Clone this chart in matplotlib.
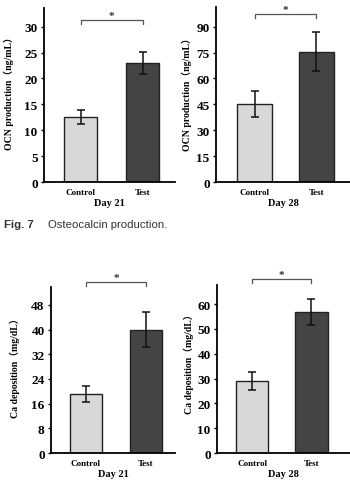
import numpy as np
import matplotlib
matplotlib.use("Agg")
import matplotlib.pyplot as plt

plt.rcParams['font.family'] = ['Liberation Serif', 'Noto Sans CJK SC']
plt.rcParams['font.weight'] = 'bold'

groups = ["Control", "Test"]

ocn_day21 = [12.6, 23.0]
ocn_day21_err = [1.3, 2.1]
ocn_day28 = [45.0, 75.5]
ocn_day28_err = [7.5, 11.3]
ca_day21 = [19.0, 40.0]
ca_day21_err = [2.6, 5.6]
ca_day28 = [29.0, 56.8]
ca_day28_err = [3.8, 5.2]

ocn_label = "OCN production（ng/mL）"
ca_label = "Ca deposition（mg/dL）"

bar_colors = ["#d8d8d8", "#444444"]

fig = plt.figure(figsize=(3.5, 4.81), dpi=100)


def panel(rect, vals, errs, ylabel, day, yticks, ylim, xlim, width, bracket_y, label_xy):
    ax = fig.add_axes(rect)
    x = np.arange(len(vals))
    ax.bar(x, vals, width=width, color=bar_colors, edgecolor="#222222", linewidth=1.0)
    ax.errorbar(x, vals, yerr=errs, fmt="none", ecolor="#111111", elinewidth=1.1,
                capsize=3, capthick=1.1)
    ax.set_xlim(*xlim)
    ax.set_ylim(*ylim)
    ax.set_yticks(yticks)
    ax.set_xticks(x)
    ax.set_xticklabels(groups, fontsize=6.5, fontweight="bold")
    ax.tick_params(axis="x", length=0, pad=4)
    ax.tick_params(axis="y", labelsize=9.5, length=2.5, width=1.0, pad=2)
    for s in ["top", "right"]:
        ax.spines[s].set_visible(False)
    for s in ["left", "bottom"]:
        ax.spines[s].set_linewidth(1.3)
    ax.set_xlabel(day, fontsize=7.5, fontweight="bold", labelpad=2)
    ax.set_ylabel(ylabel, fontsize=7, fontweight="bold")
    ax.yaxis.set_label_coords(*label_xy)
    # significance bracket
    h = (ylim[1] - ylim[0]) * 0.025
    ax.plot([0, 0, 1, 1], [bracket_y - h, bracket_y, bracket_y, bracket_y - h],
            color="#555555", lw=0.9, clip_on=False)
    ax.text(0.5, bracket_y, "*", ha="center", va="bottom", fontsize=8,
            fontweight="bold", color="#333333")
    return ax


panel([0.1257, 0.6195, 0.374, 0.3617], ocn_day21, ocn_day21_err, ocn_label, "Day 21",
      np.arange(0, 31, 5), (0, 33.6), (-0.59, 1.52), 0.53, 31.3, (-0.23, 0.53))
panel([0.617, 0.6195, 0.383, 0.3638], ocn_day28, ocn_day28_err, ocn_label, "Day 28",
      np.arange(0, 91, 15), (0, 101.4), (-0.63, 1.55), 0.57, 97.3, (-0.18, 0.52))
panel([0.1457, 0.0561, 0.354, 0.345], ca_day21, ca_day21_err, ca_label, "Day 21",
      np.arange(0, 49, 8), (0, 53.8), (-0.58, 1.48), 0.53, 55.5, (-0.25, 0.53))
panel([0.62, 0.0561, 0.38, 0.349], ca_day28, ca_day28_err, ca_label, "Day 28",
      np.arange(0, 61, 10), (0, 67.6), (-0.59, 1.65), 0.55, 70.1, (-0.17, 0.55))

fig.text(4 / 350, 1 - 225 / 481, "Fig. 7", fontsize=8.2, fontweight="bold",
         family="Liberation Sans", color="#333333", va="center")
fig.text(48 / 350, 1 - 225 / 481, "Osteocalcin production.", fontsize=8.2,
         fontweight="normal", family="Liberation Sans", color="#333333", va="center")

fig.savefig("out.png", dpi=100)
